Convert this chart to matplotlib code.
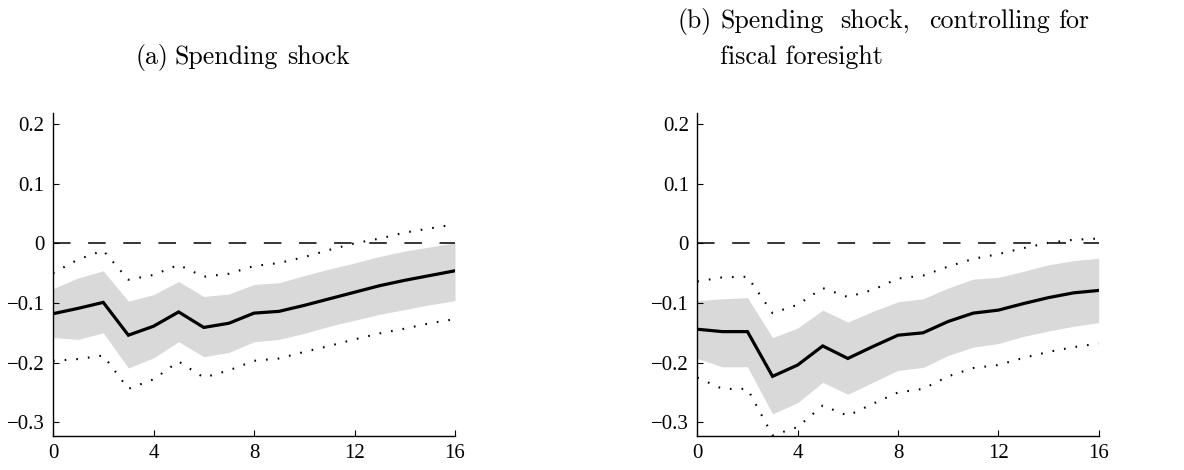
import numpy as np
import matplotlib
matplotlib.use("Agg")
import matplotlib.pyplot as plt

# horizon (quarters)
horizon = list(range(17))

# (a) spending shock
a_median = [-0.118, -0.109, -0.099, -0.154, -0.139, -0.115, -0.141, -0.134, -0.117,
            -0.114, -0.104, -0.093, -0.082, -0.071, -0.062, -0.054, -0.046]
a_band_hi = [-0.076, -0.058, -0.046, -0.097, -0.086, -0.064, -0.089, -0.085, -0.069,
             -0.066, -0.054, -0.043, -0.033, -0.022, -0.013, -0.006, 0.001]
a_band_lo = [-0.158, -0.161, -0.150, -0.209, -0.192, -0.165, -0.190, -0.183, -0.165,
             -0.161, -0.151, -0.139, -0.129, -0.119, -0.111, -0.103, -0.096]
a_dot_hi = [-0.050, -0.027, -0.012, -0.061, -0.053, -0.036, -0.056, -0.051, -0.038,
            -0.033, -0.023, -0.011, 0.000, 0.008, 0.018, 0.025, 0.032]
a_dot_lo = [-0.197, -0.194, -0.188, -0.244, -0.228, -0.198, -0.225, -0.213, -0.197,
            -0.193, -0.182, -0.172, -0.161, -0.151, -0.143, -0.134, -0.127]

# (b) spending shock, controlling for fiscal foresight
b_median = [-0.144, -0.148, -0.148, -0.223, -0.204, -0.172, -0.193, -0.173, -0.154,
            -0.150, -0.131, -0.117, -0.112, -0.101, -0.091, -0.083, -0.079]
b_band_hi = [-0.096, -0.093, -0.091, -0.158, -0.142, -0.112, -0.132, -0.114, -0.098,
             -0.093, -0.075, -0.060, -0.057, -0.047, -0.036, -0.029, -0.025]
b_band_lo = [-0.193, -0.207, -0.207, -0.286, -0.267, -0.233, -0.253, -0.233, -0.213,
             -0.208, -0.188, -0.174, -0.168, -0.156, -0.147, -0.139, -0.133]
b_dot_hi = [-0.064, -0.057, -0.056, -0.117, -0.103, -0.075, -0.090, -0.078, -0.059,
            -0.054, -0.039, -0.026, -0.018, -0.008, 0.001, 0.006, 0.008]
b_dot_lo = [-0.225, -0.244, -0.244, -0.322, -0.308, -0.272, -0.289, -0.269, -0.250,
            -0.244, -0.223, -0.209, -0.204, -0.192, -0.182, -0.174, -0.168]

xticks = [0, 4, 8, 12, 16]
yticks = [-0.3, -0.2, -0.1, 0, 0.1, 0.2]
ytick_labels = ["\u22120.3", "\u22120.2", "\u22120.1", "0", "0.1", "0.2"]

W, H = 1184, 470
fig = plt.figure(figsize=(W / 100, H / 100), dpi=100)

tick_font = {"family": "Liberation Serif", "size": 15}


def panel(rect, med, bhi, blo, dhi, dlo):
    ax = fig.add_axes(rect)
    ax.fill_between(horizon, blo, bhi, color="#d9d9d9", lw=0, zorder=1)
    ax.axhline(0, color="black", lw=1.1, linestyle=(0, (11.5, 11.5)), zorder=2)
    ax.plot(horizon, dhi, color="black", lw=1.5, linestyle=(0, (0.8, 4.8)), zorder=3)
    ax.plot(horizon, dlo, color="black", lw=1.5, linestyle=(0, (0.8, 4.8)), zorder=3)
    ax.plot(horizon, med, color="black", lw=2.3, zorder=4, solid_joinstyle="miter")
    ax.set_xlim(0, 16)
    ax.set_ylim(-0.323, 0.219)
    ax.spines["top"].set_visible(False)
    ax.spines["right"].set_visible(False)
    for s in ("left", "bottom"):
        ax.spines[s].set_linewidth(1.0)
    ax.set_xticks(xticks)
    ax.set_xticklabels([str(t) for t in xticks], fontdict=tick_font)
    ax.set_yticks(yticks)
    ax.set_yticklabels(ytick_labels, fontdict=tick_font)
    ax.tick_params(direction="in", length=4, width=0.8, pad=6)
    return ax


panel([53 / W, 34 / H, 402 / W, 323.3 / H],
      a_median, a_band_hi, a_band_lo, a_dot_hi, a_dot_lo)
panel([697.3 / W, 34 / H, 401.4 / W, 323.3 / H],
      b_median, b_band_hi, b_band_lo, b_dot_hi, b_dot_lo)

title_font = {"family": "cmr10", "size": 18.6}

# (a) title
words_a = [("(a)", 135), ("Spending", 175), ("shock", 286.7)]
for w, xp in words_a:
    fig.text(xp / W, 1 - 64 / H, w, ha="left", va="baseline", **title_font)

# (b) title, justified over two lines
words_b = [("(b)", 678), ("Spending", 720.3), ("shock,", 840.3),
           ("controlling", 928.7), ("for", 1058)]
for w, xp in words_b:
    fig.text(xp / W, 1 - 28 / H, w, ha="left", va="baseline", **title_font)
fig.text(720.3 / W, 1 - 64 / H, "fiscal foresight", ha="left", va="baseline", **title_font)

fig.savefig("out.png", dpi=100)
